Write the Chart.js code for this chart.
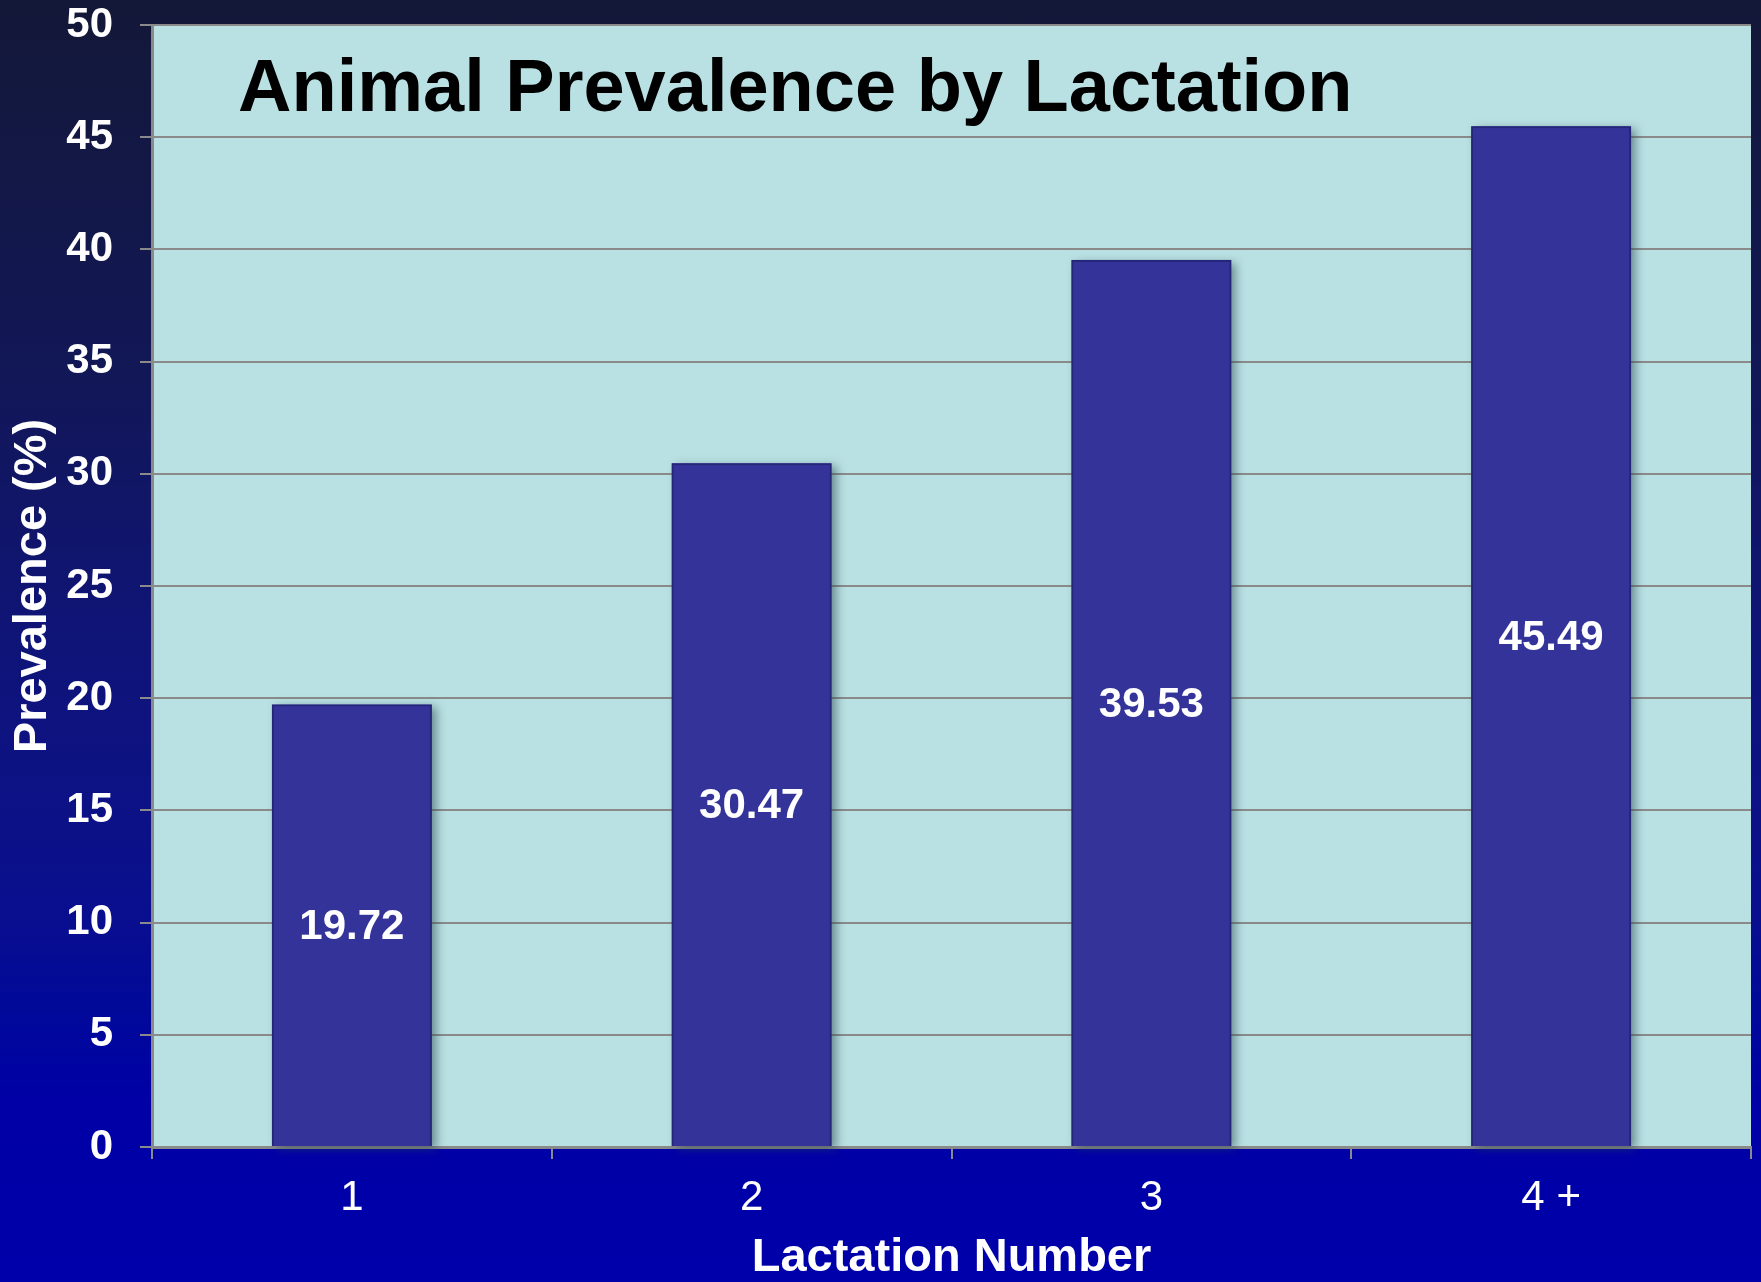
<!DOCTYPE html>
<html lang="en">
<head>
  <meta charset="UTF-8" />
  <title>Animal Prevalence by Lactation</title>
  <script src="https://cdn.jsdelivr.net/npm/chart.js"></script>
  <style>
    html, body {
      margin: 0;
      padding: 0;
    }
    body {
      width: 1761px;
      height: 1282px;
      overflow: hidden;
      background: linear-gradient(to bottom,
        #131838 0%, #121758 30%, #0f1478 50%, #0c1188 65%,
        #090e90 72%, #010a98 78%, #0000a6 86%, #0000aa 100%);
    }
    .chart-container {
      position: relative;
      width: 1761px;
      height: 1282px;
    }
  </style>
</head>
<body>
  <div class="chart-container">
    <canvas id="chart"></canvas>
  </div>

  <script>
    // data
    const categories = ['1', '2', '3', '4 +'];
    const prevalence = [19.72, 30.47, 39.53, 45.49];
    const yMin = 0;
    const yMax = 50;
    const yStep = 5;

    const chartTitle = 'Animal Prevalence by Lactation';
    const xTitle = 'Lactation Number';
    const yTitle = 'Prevalence (%)';

    const FONT = '"Liberation Sans", Arial, sans-serif';
    const gridGray = '#8a8a8a';

    // light plot background + title inside plot area
    const plotBackground = {
      id: 'plotBackground',
      beforeDraw(chart) {
        const { ctx, chartArea: a } = chart;
        ctx.save();
        ctx.fillStyle = '#b9e0e3';
        ctx.fillRect(a.left, a.top, a.right - a.left, a.bottom - a.top);
        ctx.restore();
      },
      afterDraw(chart) {
        const { ctx, chartArea: a } = chart;
        ctx.save();
        ctx.fillStyle = '#000';
        ctx.font = 'bold 74px ' + FONT;
        ctx.textAlign = 'left';
        ctx.textBaseline = 'alphabetic';
        ctx.fillText(chartTitle, a.left + 86, a.top + 86);
        ctx.restore();
      }
    };

    // soft shadow to the right / below each bar
    const barShadow = {
      id: 'barShadow',
      beforeDatasetsDraw(chart) {
        const { ctx } = chart;
        const meta = chart.getDatasetMeta(0);
        ctx.save();
        ctx.shadowColor = 'rgba(40, 70, 80, 0.55)';
        ctx.shadowBlur = 9;
        ctx.shadowOffsetX = 5;
        ctx.shadowOffsetY = 3;
        ctx.fillStyle = '#333399';
        meta.data.forEach(bar => {
          const w = bar.width;
          ctx.fillRect(bar.x - w / 2, bar.y, w, bar.base - bar.y);
        });
        ctx.restore();
      }
    };

    // value labels in the middle of each bar
    const valueLabels = {
      id: 'valueLabels',
      afterDatasetsDraw(chart) {
        const { ctx } = chart;
        const meta = chart.getDatasetMeta(0);
        ctx.save();
        ctx.fillStyle = '#fff';
        ctx.font = 'bold 42px ' + FONT;
        ctx.textAlign = 'center';
        ctx.textBaseline = 'middle';
        meta.data.forEach((bar, i) => {
          ctx.fillText(prevalence[i].toFixed(2), bar.x, (bar.y + bar.base) / 2 + 2);
        });
        ctx.restore();
      }
    };

    new Chart(document.getElementById('chart'), {
      type: 'bar',
      data: {
        labels: categories,
        datasets: [{
          data: prevalence,
          backgroundColor: '#333399',
          borderColor: '#262678',
          borderWidth: 2,
          barPercentage: 0.4,
          categoryPercentage: 1.0
        }]
      },
      options: {
        responsive: true,
        maintainAspectRatio: false,
        animation: false,
        layout: {
          padding: { top: 0, right: 10, left: 0, bottom: 0 }
        },
        plugins: {
          legend: { display: false },
          tooltip: { enabled: false }
        },
        scales: {
          x: {
            afterFit(scale) { scale.height = 135; },
            grid: {
              drawOnChartArea: false,
              drawTicks: true,
              tickLength: 12,
              color: gridGray,
              lineWidth: 2
            },
            border: { color: gridGray, width: 3 },
            ticks: {
              color: '#fff',
              padding: 14,
              font: { family: FONT, size: 42, lineHeight: 1.2 }
            },
            title: {
              display: true,
              text: xTitle,
              color: '#fff',
              padding: { top: 0, bottom: 0 },
              font: { family: FONT, size: 47, weight: 'bold', lineHeight: 1 }
            }
          },
          y: {
            min: yMin,
            max: yMax,
            afterFit(scale) {
              scale.width = 152;
              scale.paddingTop = 25;
              scale.paddingBottom = 0;
            },
            grid: {
              color: gridGray,
              lineWidth: 2,
              tickLength: 12
            },
            border: { color: gridGray, width: 3 },
            ticks: {
              stepSize: yStep,
              color: '#fff',
              padding: 27,
              font: { family: FONT, size: 42, weight: 'bold', lineHeight: 1.2 }
            },
            title: {
              display: true,
              text: yTitle,
              color: '#fff',
              padding: { top: 10, bottom: 0 },
              font: { family: FONT, size: 47, weight: 'bold', lineHeight: 1 }
            }
          }
        }
      },
      plugins: [plotBackground, barShadow, valueLabels]
    });
  </script>
</body>
</html>
